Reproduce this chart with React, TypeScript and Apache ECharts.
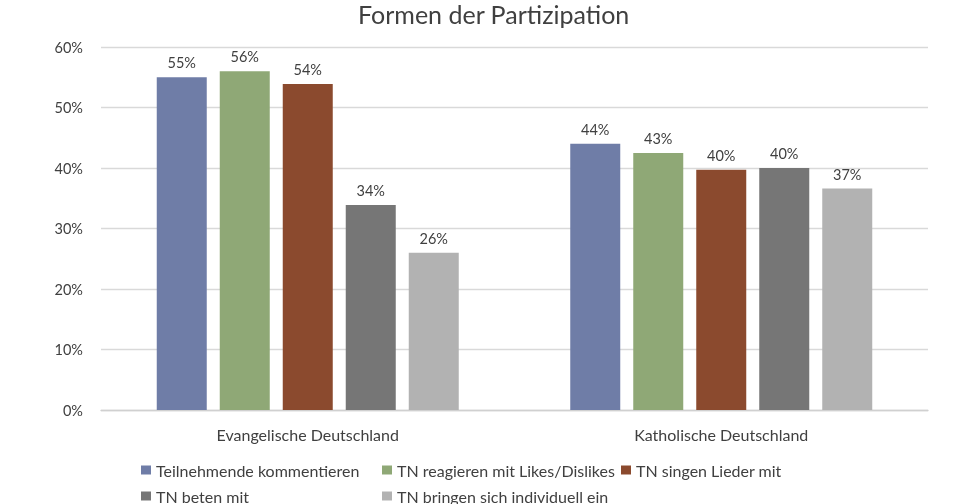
import React, { useEffect, useRef } from "react";
import * as echarts from "echarts";

const categories = ["Evangelische Deutschland", "Katholische Deutschland"];
const seriesNames = [
  "Teilnehmende kommentieren",
  "TN reagieren mit Likes/Dislikes",
  "TN singen Lieder mit",
  "TN beten mit",
  "TN bringen sich individuell ein",
];
const kommentieren = [0.55, 0.44];
const reagieren = [0.56, 0.425];
const singen = [0.539, 0.397];
const beten = [0.339, 0.4];
const individuell = [0.26, 0.366];
const seriesValues = [kommentieren, reagieren, singen, beten, individuell];
const colors = ["#6F7DA7", "#8FA876", "#8B4A2E", "#767676", "#B2B2B2"];
const legendPos = [
  { left: 136, top: 457 },
  { left: 377, top: 457 },
  { left: 616, top: 457 },
  { left: 136, top: 483 },
  { left: 377, top: 483 },
];

const FONT = "Lato, 'Open Sans', sans-serif";

export default function App() {
  const ref = useRef<HTMLDivElement>(null);
  useEffect(() => {
    if (!ref.current) return;
    const chart = echarts.init(ref.current, undefined, { renderer: "svg" });
    chart.setOption({
      animation: false,
      textStyle: { fontFamily: FONT },
      title: {
        text: "Formen der Partizipation",
        left: 353,
        top: -4,
        textStyle: { fontFamily: FONT, fontSize: 25, fontWeight: "normal", color: "#404040" },
      },
      legend: seriesNames.map((n, i) => ({
        data: [n],
        left: legendPos[i].left,
        top: legendPos[i].top,
        icon: "rect",
        itemWidth: 10,
        itemHeight: 9,
        itemGap: 4,
        textStyle: { fontFamily: FONT, fontSize: 16, color: "#404040" },
      })),
      grid: { left: 101, right: 36, top: 47, bottom: 94, containLabel: false },
      xAxis: {
        type: "category",
        data: categories,
        axisLine: { lineStyle: { color: "#D0D0D0", width: 1.3 } },
        axisTick: { show: false },
        axisLabel: { fontFamily: FONT, fontSize: 16, color: "#404040", margin: 16 },
      },
      yAxis: {
        type: "value",
        min: 0,
        max: 0.6,
        interval: 0.1,
        axisLine: { show: false },
        axisTick: { show: false },
        splitLine: { lineStyle: { color: "#D9D9D9", width: 1.3 } },
        axisLabel: {
          fontFamily: FONT,
          fontSize: 14.5,
          color: "#404040",
          margin: 18,
          formatter: (v: number) => Math.round(v * 100) + "%",
        },
      },
      series: seriesNames.map((n, i) => ({
        name: n,
        type: "bar",
        data: seriesValues[i],
        barWidth: 50,
        barGap: "26%",
        itemStyle: { color: colors[i] },
        label: {
          show: true,
          position: "top",
          distance: 7,
          fontFamily: FONT,
          fontSize: 14.5,
          color: "#404040",
          formatter: (p: any) => Math.round(p.value * 100) + "%",
        },
      })),
    });
    return () => chart.dispose();
  }, []);
  return (
    <div
      ref={ref}
      style={{ position: "fixed", left: 0, top: 0, width: 964, height: 504 }}
    />
  );
}
